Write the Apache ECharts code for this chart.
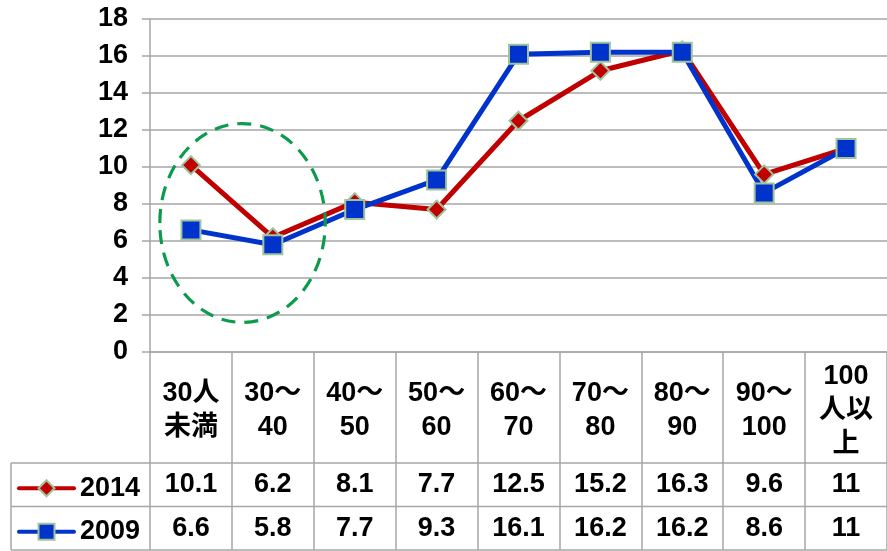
<!DOCTYPE html>
<html>
<head>
<meta charset="utf-8">
<script src="https://cdn.jsdelivr.net/npm/echarts@6/dist/echarts.min.js"></script>
<style>
  html, body { margin: 0; padding: 0; background: #fff; }
  #chart { width: 887px; height: 551px; }
</style>
</head>
<body>
<div id="chart"></div>
<script>
// Class size bands and share (%) per survey year
const categories = ['30人\n未満', '30～\n40', '40～\n50', '50～\n60', '60～\n70', '70～\n80', '80～\n90', '90～\n100', '100\n人以\n上'];
const values2014 = [10.1, 6.2, 8.1, 7.7, 12.5, 15.2, 16.3, 9.6, 11];
const values2009 = [6.6, 5.8, 7.7, 9.3, 16.1, 16.2, 16.2, 8.6, 11];
const seriesNames = ['2014', '2009'];
const yMin = 0, yMax = 18, yStep = 2;

// Layout of the plot and the data table below it
const GRID_LEFT = 150, GRID_TOP = 19, GRID_BOTTOM_Y = 352, COL_W = 82.9;
const HEADER_H = 111, ROW_H = 43.5, TABLE_LEFT = 11;
const GRAY = '#a6a6a6';
const FONT = '"Liberation Sans", "Noto Sans CJK JP", sans-serif';
const textBase = { fontFamily: FONT, fontSize: 27, fontWeight: 'bold', color: '#000' };

const chart = echarts.init(document.getElementById('chart'), null, { renderer: 'canvas' });

const row1Center = HEADER_H + ROW_H / 2;
const row2Center = HEADER_H + ROW_H * 1.5;

function valueAxis(vals, margin) {
  return {
    type: 'category', data: categories, gridIndex: 0, position: 'bottom',
    axisLine: { show: false }, axisTick: { show: false }, splitLine: { show: false },
    axisLabel: Object.assign({}, textBase, {
      interval: 0, margin: margin, verticalAlign: 'middle',
      formatter: (v, i) => String(vals[i])
    })
  };
}

function legendRow(name, center) {
  return {
    data: [name], left: 17, top: GRID_BOTTOM_Y + center - 10, padding: 0,
    itemWidth: 55, itemHeight: 20, selectedMode: false,
    lineStyle: { width: 4, cap: 'round' },
    textStyle: Object.assign({}, textBase, { padding: [0, 0, 0, 1] })
  };
}

chart.setOption({
  animation: false,
  backgroundColor: '#fff',
  grid: {
    left: GRID_LEFT, top: GRID_TOP,
    width: COL_W * categories.length,
    height: GRID_BOTTOM_Y - GRID_TOP
  },
  xAxis: [
    {
      type: 'category', data: categories, gridIndex: 0, position: 'bottom',
      axisLine: { show: true, lineStyle: { color: GRAY, width: 1.5 } },
      axisTick: { show: true, interval: 0, length: HEADER_H + ROW_H * 2, lineStyle: { color: GRAY, width: 1.5 } },
      splitLine: { show: false },
      axisLabel: Object.assign({}, textBase, {
        interval: 0, margin: HEADER_H / 2 + 3, verticalAlign: 'middle', lineHeight: 34
      })
    },
    valueAxis(values2014, row1Center),
    valueAxis(values2009, row2Center)
  ],
  yAxis: {
    type: 'value', min: yMin, max: yMax, interval: yStep,
    axisLine: { show: true, lineStyle: { color: GRAY, width: 1.5 } },
    axisTick: { show: true, length: 8, lineStyle: { color: GRAY, width: 1.5 } },
    splitLine: { show: true, lineStyle: { color: GRAY, width: 1.5 } },
    axisLabel: Object.assign({}, textBase, { margin: 22 })
  },
  legend: [legendRow(seriesNames[0], row1Center), legendRow(seriesNames[1], row2Center)],
  series: [
    {
      name: seriesNames[0], type: 'line', data: values2014,
      symbol: 'diamond', symbolSize: 18,
      lineStyle: { color: '#c00000', width: 5 },
      itemStyle: { color: '#c00000', borderColor: '#9fc49b', borderWidth: 2 }
    },
    {
      name: seriesNames[1], type: 'line', data: values2009,
      symbol: 'rect', symbolSize: 19,
      lineStyle: { color: '#0033cc', width: 5 },
      itemStyle: { color: '#0033cc', borderColor: '#9fc49b', borderWidth: 2 }
    }
  ]
});

// Table borders below the plot, plus the dashed ellipse around the two smallest classes
const pA = chart.convertToPixel({ xAxisIndex: 0, yAxisIndex: 0 }, [0, 12.35]);
const pB = chart.convertToPixel({ xAxisIndex: 0, yAxisIndex: 0 }, [1, 1.6]);
const step = pB[0] - pA[0];
const left = pA[0] - 0.38 * step, right = pA[0] + 1.64 * step;
const rowTop = GRID_BOTTOM_Y + HEADER_H;
const tableBottom = rowTop + ROW_H * 2;
const lineStyle = { stroke: GRAY, lineWidth: 1.5 };

chart.setOption({
  graphic: [
    { type: 'line', shape: { x1: TABLE_LEFT, y1: rowTop, x2: 887, y2: rowTop }, style: lineStyle },
    { type: 'line', shape: { x1: TABLE_LEFT, y1: rowTop + ROW_H, x2: 887, y2: rowTop + ROW_H }, style: lineStyle },
    { type: 'line', shape: { x1: TABLE_LEFT, y1: tableBottom, x2: 887, y2: tableBottom }, style: lineStyle },
    { type: 'line', shape: { x1: TABLE_LEFT, y1: rowTop, x2: TABLE_LEFT, y2: tableBottom }, style: lineStyle },
    {
      type: 'ellipse', z: 100,
      shape: { cx: (left + right) / 2, cy: (pA[1] + pB[1]) / 2, rx: (right - left) / 2, ry: (pB[1] - pA[1]) / 2 },
      style: { fill: 'none', stroke: '#0c9a4c', lineWidth: 3.2, lineDash: [14, 9] }
    }
  ]
});
</script>
</body>
</html>
